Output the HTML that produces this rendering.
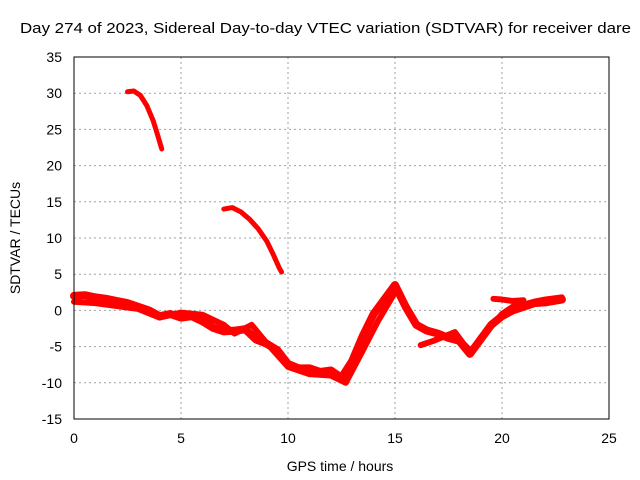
<!DOCTYPE html>
<html><head><meta charset="utf-8"><style>
body{margin:0;background:#fff}
svg{display:block;font-family:"Liberation Sans",sans-serif}
</style></head><body>
<svg id="c" width="640" height="480" viewBox="0 0 640 480">
<text x="20" y="33" font-size="15" textLength="611" lengthAdjust="spacingAndGlyphs">Day 274 of 2023, Sidereal Day-to-day VTEC variation (SDTVAR) for receiver dare</text>
<text x="340" y="471" font-size="14" text-anchor="middle">GPS time / hours</text>
<text transform="translate(20,238) rotate(-90)" font-size="14" text-anchor="middle">SDTVAR / TECUs</text>
<g id="grid"></g><g id="marks"></g>
<rect x="74" y="57" width="535" height="362" fill="none" stroke="#000" stroke-width="1"/>
</svg>
<script>
const xTicks=[0,5,10,15,20,25];
const yTicks=[35,30,25,20,15,10,5,0,-5,-10,-15];
const seriesA_t=[2.5,2.8,3.1,3.4,3.7,3.9,4.1];
const seriesA_v=[30.2,30.3,29.7,28.3,26.2,24.3,22.3];
const seriesB_t=[7.0,7.4,7.8,8.2,8.6,9.0,9.3,9.6,9.7];
const seriesB_v=[14.0,14.2,13.6,12.6,11.3,9.6,7.8,5.8,5.3];
const seriesC_t=[0,0.5,1,1.5,2,2.5,3,3.5,4,4.5,5,5.5,6,6.5,7,7.5,8,8.5,9,9.5,10,10.5,11,11.5,12,12.5,13,13.5,14,14.5,15,15.5,16,16.5,17,17.5,18,18.5,19,19.5,20,20.5,21,21.5,22,22.8];
const seriesC_v=[2.0,2.1,1.8,1.6,1.3,1.0,0.5,0.0,-0.8,-0.5,-1.0,-0.8,-1.5,-2.4,-2.9,-2.8,-2.6,-4.0,-4.6,-5.5,-7.4,-8.0,-8.0,-8.5,-8.3,-9.3,-7.0,-3.5,-0.5,1.5,3.5,0.5,-2.0,-2.8,-3.2,-3.8,-4.2,-6.0,-4.0,-2.0,-0.8,0.0,0.5,1.0,1.1,1.5];
const seriesD_t=[0,1,2,3,4,5,6,7,7.5,8.3,9,10,11,12,12.7,13.5,14.2,15];
const seriesD_v=[1.2,1.0,0.6,0.2,-1.0,-0.3,-0.6,-2.0,-3.2,-2.0,-4.5,-7.8,-8.8,-9.0,-10.0,-5.5,-1.5,2.5];
const seriesE_t=[16.2,16.8,17.3,17.8,18.2,18.6,19.0,19.5,20.0,20.5,21.0,21.5,22.0,22.8];
const seriesE_v=[-4.8,-4.2,-3.6,-3.0,-4.6,-5.8,-3.8,-2.2,-0.5,0.5,0.8,1.2,1.5,1.8];
const seriesF_t=[19.6,20.0,20.5,21.0];
const seriesF_v=[1.6,1.5,1.3,1.4];
const X=t=>74+t*(535/25), Y=v=>57+(35-v)*(362/50);
const ns="http://www.w3.org/2000/svg";
const g=document.getElementById('grid'), m=document.getElementById('marks'), svg=document.getElementById('c');
function mk(tag,at,par){const e=document.createElementNS(ns,tag);for(const k in at)e.setAttribute(k,at[k]);par.appendChild(e);return e;}
xTicks.forEach(t=>{
 if(t>0&&t<25){const l=mk('line',{x1:X(t),x2:X(t),y1:57,y2:419,stroke:'#a0a0a0','stroke-dasharray':'2,3'},g);
 
 }
 const tx=mk('text',{x:X(t),y:443,'font-size':14,'text-anchor':'middle'},svg);tx.textContent=t;
 
 
});
yTicks.forEach(v=>{
 if(v<35&&v>-15){const l=mk('line',{x1:74,x2:609,y1:Y(v),y2:Y(v),stroke:'#a0a0a0','stroke-dasharray':'2,3'},g);
 
 }
 const tx=mk('text',{x:62,y:Y(v)+5,'font-size':14,'text-anchor':'end'},svg);tx.textContent=v;
 
 
});
function series(ts,vs,w,name){
 const p=mk('polyline',{points:ts.map((t,i)=>X(t)+','+Y(vs[i])).join(' '),fill:'none',stroke:'#ff0000','stroke-width':w,'stroke-linejoin':'round','stroke-linecap':'round'},m);
 
 
}
series(seriesA_t,seriesA_v,5,'series-a');
series(seriesB_t,seriesB_v,5,'series-b');
series(seriesC_t,seriesC_v,8,'series-c');
series(seriesD_t,seriesD_v,6,'series-d');
series(seriesE_t,seriesE_v,6,'series-e');
series(seriesF_t,seriesF_v,6,'series-f');
</script>
</body></html>
